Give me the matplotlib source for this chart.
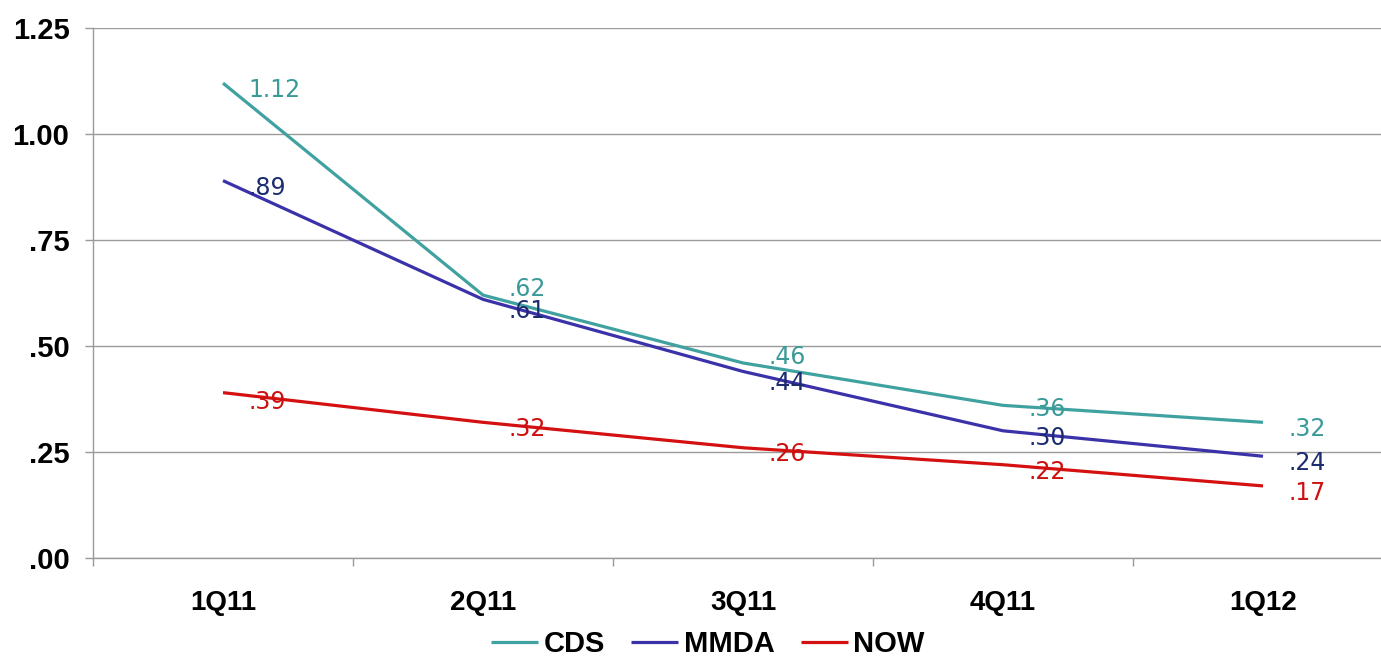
import numpy as np
import matplotlib.pyplot as plt
from matplotlib.ticker import FixedLocator, FixedFormatter

quarters = ['1Q11', '2Q11', '3Q11', '4Q11', '1Q12']
cds = [1.12, 0.62, 0.46, 0.36, 0.32]
mmda = [0.89, 0.61, 0.44, 0.30, 0.24]
now = [0.39, 0.32, 0.26, 0.22, 0.17]

yticks = [0, 0.25, 0.5, 0.75, 1.0, 1.25]
ytick_labels = ['.00', '.25', '.50', '.75', '1.00', '1.25']

def fmt(v):
    s = '%.2f' % v
    return s[1:] if s.startswith('0') else s

# name, values, line colour, label colour, vertical label shift per point (px)
series = [
    ('CDS', cds, '#40a2a0', '#3a9a98', [-7, 6, 6, -4, -7]),
    ('MMDA', mmda, '#3b32aa', '#1c2c70', [-7, -12, -12, -7, -7]),
    ('NOW', now, '#d41010', '#cc1010', [-9, -7, -6, -7, -7]),
]

fig = plt.figure(figsize=(13.81, 6.58), dpi=100)
ax = fig.add_axes([93 / 1381, 100 / 658, 1300 / 1381, 530 / 658])

x = np.arange(len(quarters))
for name, vals, lc, tc, dys in series:
    ax.plot(x, vals, color=lc, lw=2.3, label=name, solid_capstyle='butt')
    for xi, v, dy in zip(x, vals, dys):
        ax.annotate(fmt(v), (xi, v), xytext=(25, dy), textcoords='offset pixels',
                    ha='left', va='center', color=tc, fontsize=17,
                    family='DejaVu Sans')

ax.set_xlim(-0.5, 4.5)
ax.set_ylim(0, 1.25)

# y axis: gridlines with outward ticks
ax.set_yticks(yticks)
ax.set_yticklabels(ytick_labels, fontsize=21, fontweight='bold', family='Liberation Sans')
ax.tick_params(axis='y', direction='out', length=6, width=1, color='#999999', pad=11)
ax.yaxis.grid(True, color='#9a9a9a', lw=1)
ax.set_axisbelow(True)

# x axis: labels at category centres, tick marks between categories
ax.xaxis.set_major_locator(FixedLocator(x))
ax.xaxis.set_major_formatter(FixedFormatter(quarters))
ax.xaxis.set_minor_locator(FixedLocator(np.arange(-0.5, 5, 1.0)))
ax.tick_params(axis='x', which='major', length=0, pad=23)
ax.tick_params(axis='x', which='minor', direction='out', length=6, width=1, color='#999999')
for lbl in ax.get_xticklabels():
    lbl.set_fontsize(20)
    lbl.set_fontweight('bold')
    lbl.set_family('Liberation Sans')

for side in ['top', 'right']:
    ax.spines[side].set_visible(False)
for side in ['left', 'bottom']:
    ax.spines[side].set_color('#9a9a9a')
    ax.spines[side].set_linewidth(1)

fig.legend(loc='center', bbox_to_anchor=(708 / 1381, 14 / 658), ncol=3, frameon=False,
           prop={'family': 'Liberation Sans', 'weight': 'bold', 'size': 21},
           handlelength=1.6, handletextpad=0.2, columnspacing=0.9)

fig.savefig('out.png', dpi=100)
